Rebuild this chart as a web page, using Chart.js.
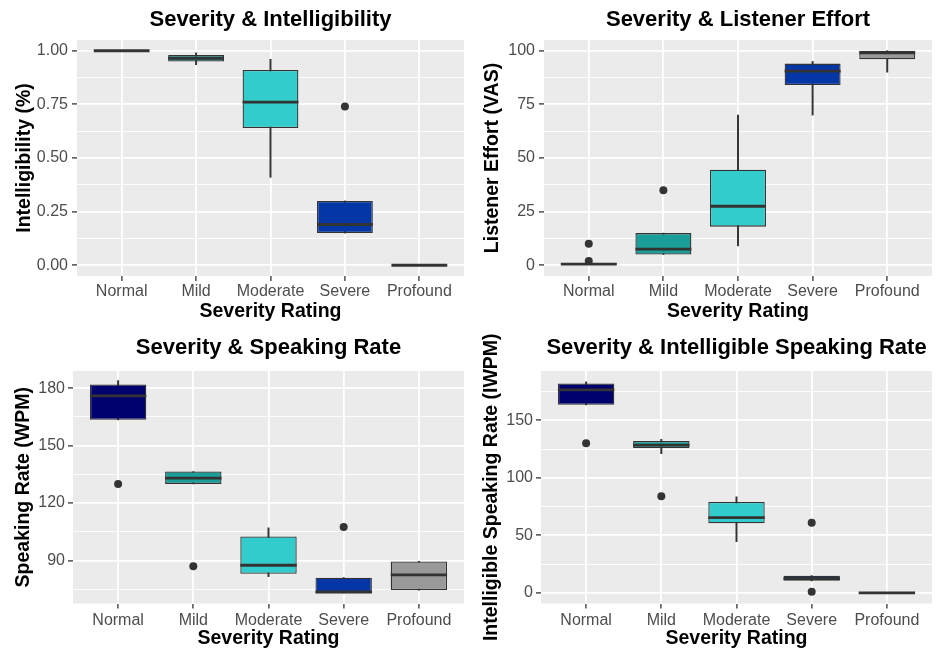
<!DOCTYPE html>
<html><head><meta charset="utf-8">
<script src="https://cdn.jsdelivr.net/npm/chart.js@4.4.1/dist/chart.umd.min.js"></script>
<style>
html,body{margin:0;padding:0;background:#fff;}
#wrap{position:relative;width:936px;height:651px;overflow:hidden;}
canvas{position:absolute;}
</style></head><body>
<div id="wrap">
<canvas id="c1" width="468" height="325" style="left:0;top:0"></canvas>
<canvas id="c2" width="468" height="325" style="left:468px;top:0"></canvas>
<canvas id="c3" width="468" height="326" style="left:0;top:325px"></canvas>
<canvas id="c4" width="468" height="326" style="left:468px;top:325px"></canvas>
</div>
<script>
// ---------- data ----------
const categories = ['Normal', 'Mild', 'Moderate', 'Severe', 'Profound'];

// Severity & Intelligibility
const intelLow    = [1.00, 0.935, 0.41, 0.15, 0];
const intelQ1     = [1.00, 0.95, 0.64, 0.15, 0];
const intelMedian = [1.00, 0.965, 0.76, 0.19, 0];
const intelQ3     = [1.00, 0.98, 0.91, 0.30, 0];
const intelHigh   = [1.00, 0.99, 0.96, 0.30, 0];
const intelOutCat = [3];
const intelOutVal = [0.74];
const intelMajorTicks = [0, 0.25, 0.5, 0.75, 1.0];
const intelMinorTicks = [0.125, 0.375, 0.625, 0.875];

// Severity & Listener Effort
const effortLow    = [0, 5, 9, 70, 90];
const effortQ1     = [0, 5, 18, 84, 96];
const effortMedian = [0.5, 7.5, 27.5, 90.5, 99];
const effortQ3     = [1, 15, 44.5, 94, 100];
const effortHigh   = [1, 15, 70, 95, 100];
const effortOutCat = [0, 0, 1];
const effortOutVal = [10, 2, 35];
const effortMajorTicks = [0, 25, 50, 75, 100];
const effortMinorTicks = [12.5, 37.5, 62.5, 87.5];

// Severity & Speaking Rate
const rateLow    = [163.5, 130, 81.5, 73, 74.5];
const rateQ1     = [163.5, 130, 83, 73, 74.5];
const rateMedian = [176, 133, 87.5, 73.5, 82.5];
const rateQ3     = [182, 136.5, 102.5, 81, 89.5];
const rateHigh   = [184, 136.5, 107, 81, 89.5];
const rateOutCat = [0, 1, 3];
const rateOutVal = [130, 87, 107.5];
const rateMajorTicks = [90, 120, 150, 180];
const rateMinorTicks = [75, 105, 135, 165];

// Severity & Intelligible Speaking Rate
const iwpmLow    = [163.5, 121, 44.5, 10.5, 0];
const iwpmQ1     = [163.5, 126, 60.5, 10.5, 0];
const iwpmMedian = [176.5, 128.5, 65.5, 12.5, 0];
const iwpmQ3     = [182, 132, 79, 15, 0];
const iwpmHigh   = [183.5, 133.5, 83.5, 15, 0];
const iwpmOutCat = [0, 1, 3, 3];
const iwpmOutVal = [130, 84, 61, 1];
const iwpmMajorTicks = [0, 50, 100, 150];
const iwpmMinorTicks = [25, 75, 125, 175];

// ---------- styling ----------
const FONT = '"Liberation Sans", Arial, Helvetica, sans-serif';
const boxColors = ['#00006E', '#1A9E9A', '#33CCCC', '#0536A5', '#999999'];

const bgPlugin = {
  id: 'panelBg',
  beforeDraw(chart) {
    const a = chart.chartArea, ctx = chart.ctx;
    ctx.save();
    ctx.fillStyle = '#EBEBEB';
    ctx.fillRect(a.left, a.top, a.right - a.left, a.bottom - a.top);
    ctx.restore();
  }
};
const medianPlugin = {
  id: 'boxMedian',
  afterDatasetsDraw(chart) {
    const ctx = chart.ctx, ys = chart.scales.y;
    chart.data.datasets.forEach((ds, di) => {
      if (!ds.medians) return;
      const meta = chart.getDatasetMeta(di);
      ctx.save();
      ctx.strokeStyle = '#333333';
      ctx.lineWidth = 2.8;
      meta.data.forEach((el, i) => {
        const py = ys.getPixelForValue(ds.medians[i]);
        ctx.beginPath();
        ctx.moveTo(el.x - el.width / 2, py);
        ctx.lineTo(el.x + el.width / 2, py);
        ctx.stroke();
      });
      ctx.restore();
    });
  }
};

function boxChart(id, d, L) {
  const boxData = categories.map((c, i) => ({x: i, y: [d.q1[i], d.q3[i]]}));
  const whiskerData = categories.map((c, i) => ({x: i, y: [d.lo[i], d.hi[i]]}));
  const outData = d.outCat.map((c, k) => ({x: c, y: d.outVal[k]}));
  const isMajor = v => d.major.some(t => Math.abs(t - v) < 1e-9);
  new Chart(document.getElementById(id), {
    type: 'bar',
    data: {datasets: [
      {type: 'bar', data: whiskerData, backgroundColor: '#333333', borderWidth: 0,
       barThickness: 1.3, grouped: false, order: 3},
      {type: 'bar', data: boxData, medians: d.med, backgroundColor: boxColors,
       borderColor: '#333333', borderWidth: 1.3, borderSkipped: false, grouped: false,
       categoryPercentage: 0.75, barPercentage: 1, order: 2},
      {type: 'scatter', data: outData, pointRadius: 4, pointBackgroundColor: '#333333',
       pointBorderWidth: 0, order: 1}
    ]},
    options: {
      responsive: false, animation: false, devicePixelRatio: 1,
      events: [],
      layout: {padding: {left: 0, right: 2, top: 0, bottom: 0}},
      plugins: {
        legend: {display: false}, tooltip: {enabled: false},
        title: {display: true, text: d.title, fullSize: false, color: '#000',
          font: {family: FONT, size: 22, weight: 'bold', lineHeight: 1.2},
          padding: {top: L.tpt, bottom: L.tpb}}
      },
      scales: {
        x: {
          type: 'linear', min: -0.6, max: 4.6, bounds: 'data', offset: false,
          afterBuildTicks: s => { s.ticks = categories.map((c, i) => ({value: i})); },
          afterFit: s => { s.height = L.xh; },
          ticks: {autoSkip: false, maxRotation: 0, minRotation: 0, padding: L.xpad, color: '#4D4D4D',
            font: {family: FONT, size: 16, lineHeight: 1.2}, callback: v => categories[v]},
          grid: {offset: false, color: '#FFFFFF', lineWidth: 1.8, tickColor: '#333333', tickLength: 5, tickWidth: 1.3},
          border: {display: false},
          title: {display: true, text: 'Severity Rating', color: '#000',
            font: {family: FONT, size: 19.5, weight: 'bold', lineHeight: 1.2},
            padding: {top: 0, bottom: L.xtpb}}
        },
        y: {
          type: 'linear', min: d.min, max: d.max, bounds: 'data',
          afterBuildTicks: s => {
            s.ticks = d.major.concat(d.minor).sort((a, b) => a - b).map(v => ({value: v}));
          },
          afterFit: s => { s.width = L.yw; },
          ticks: {autoSkip: false, padding: L.ypad, color: '#4D4D4D',
            font: {family: FONT, size: 16, lineHeight: 1.2},
            callback: v => isMajor(v) ? d.fmt(v) : ''},
          grid: {
            color: '#FFFFFF',
            lineWidth: c => (c.tick && isMajor(c.tick.value)) ? 1.8 : 0.9,
            tickColor: c => (c.tick && isMajor(c.tick.value)) ? '#333333' : 'rgba(0,0,0,0)',
            tickLength: 5, tickWidth: 1.3
          },
          border: {display: false},
          title: {display: true, text: d.yTitle, color: '#000',
            font: {family: FONT, size: 19.5, weight: 'bold', lineHeight: 1.2},
            padding: {top: L.ytpt, bottom: 0}}
        }
      }
    },
    plugins: [bgPlugin, medianPlugin]
  });
}

const topLayoutA = {yw: 77, xh: 49, tpt: 7, tpb: 6.6, xpad: 1, xtpb: 1.3, ypad: 4, ytpt: 12.8};
const topLayoutB = {yw: 76, xh: 49, tpt: 7, tpb: 6.6, xpad: 1, xtpb: 1.3, ypad: 4, ytpt: 12.8};
const botLayout  = {yw: 73, xh: 47.5, tpt: 9.8, tpb: 9.8, xpad: 2.4, xtpb: 0.8, ypad: 3, ytpt: 11.8};

boxChart('c1', {title: 'Severity & Intelligibility', yTitle: 'Intelligibility (%)',
  lo: intelLow, q1: intelQ1, med: intelMedian, q3: intelQ3, hi: intelHigh,
  outCat: intelOutCat, outVal: intelOutVal, major: intelMajorTicks, minor: intelMinorTicks,
  min: -0.05, max: 1.05, fmt: v => v.toFixed(2)}, topLayoutA);

boxChart('c2', {title: 'Severity & Listener Effort', yTitle: 'Listener Effort (VAS)',
  lo: effortLow, q1: effortQ1, med: effortMedian, q3: effortQ3, hi: effortHigh,
  outCat: effortOutCat, outVal: effortOutVal, major: effortMajorTicks, minor: effortMinorTicks,
  min: -5, max: 105, fmt: v => String(v)}, topLayoutB);

boxChart('c3', {title: 'Severity & Speaking Rate', yTitle: 'Speaking Rate (WPM)',
  lo: rateLow, q1: rateQ1, med: rateMedian, q3: rateQ3, hi: rateHigh,
  outCat: rateOutCat, outVal: rateOutVal, major: rateMajorTicks, minor: rateMinorTicks,
  min: 67.5, max: 189, fmt: v => String(v)}, botLayout);

boxChart('c4', {title: 'Severity & Intelligible Speaking Rate', yTitle: 'Intelligible Speaking Rate (IWPM)',
  lo: iwpmLow, q1: iwpmQ1, med: iwpmMedian, q3: iwpmQ3, hi: iwpmHigh,
  outCat: iwpmOutCat, outVal: iwpmOutVal, major: iwpmMajorTicks, minor: iwpmMinorTicks,
  min: -9.2, max: 192.9, fmt: v => String(v)}, botLayout);
</script>
</body></html>
